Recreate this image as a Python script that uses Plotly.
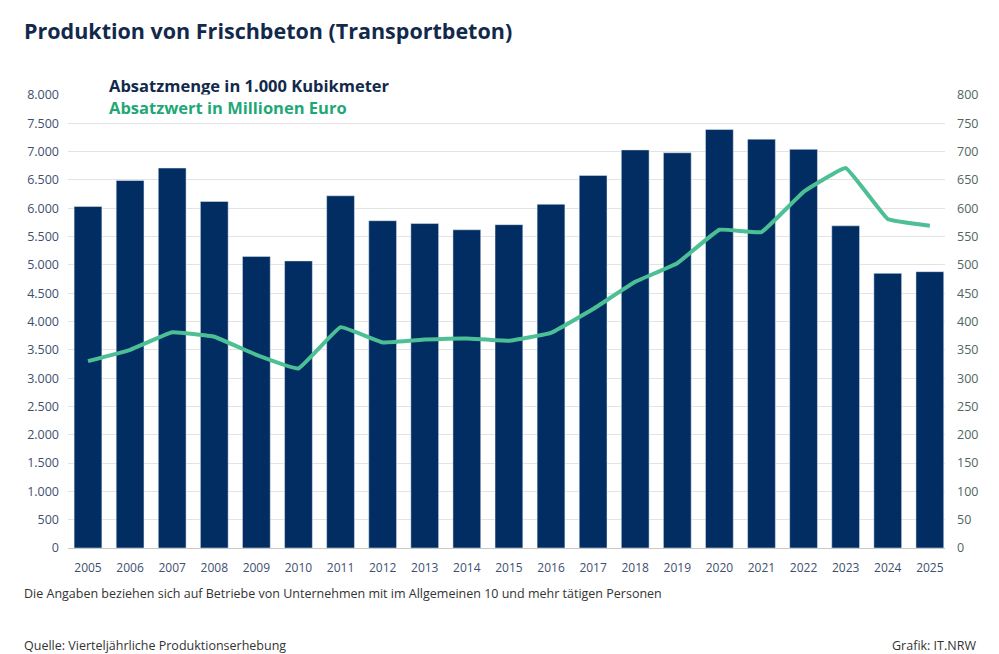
import plotly.graph_objects as go

# Daten
jahre = [str(j) for j in range(2005, 2026)]
absatzmenge = [6030, 6490, 6710, 6120, 5150, 5070, 6220, 5780, 5730, 5620, 5710,
               6070, 6580, 7030, 6980, 7390, 7220, 7040, 5690, 4850, 4880]
absatzwert = [330, 350, 381, 373, 341, 317, 390, 363, 368, 370, 366,
              380, 422, 470, 503, 562, 558, 629, 671, 581, 569]

navy = '#012d62'
gruen = '#4dbf95'

fig = go.Figure()
fig.add_trace(go.Bar(x=jahre, y=absatzmenge, marker_color=navy, width=0.66,
                     name='Absatzmenge in 1.000 Kubikmeter'))
fig.add_trace(go.Scatter(x=jahre, y=absatzwert, yaxis='y2', mode='lines',
                         line=dict(color=gruen, width=4, shape='spline', smoothing=0.25),
                         name='Absatzwert in Millionen Euro'))

fig.update_layout(
    width=999, height=654,
    margin=dict(l=68, r=54, t=95, b=106),
    paper_bgcolor='white', plot_bgcolor='white',
    separators=',.',
    showlegend=False,
    font=dict(family='Open Sans', size=12, color='#3d5070'),
    xaxis=dict(range=[-0.475, 20.36], showgrid=False, ticks='', ticklabelstandoff=9,
               linecolor='#c8c8c8', tickfont=dict(size=12, color='#3d5070')),
    yaxis=dict(range=[0, 8000], dtick=500, tickformat=',d', gridcolor='#e3e3e3',
               zeroline=False, ticks='', ticklabelstandoff=8,
               tickfont=dict(size=12.5, color='#3d5070')),
    yaxis2=dict(range=[0, 800], dtick=50, overlaying='y', side='right',
                showgrid=False, zeroline=False, ticklabelstandoff=11,
                tickfont=dict(size=12.5, color='#4f6660')),
)

fig.add_annotation(text='<b>Produktion von Frischbeton (Transportbeton)</b>',
                   xref='paper', yref='paper', x=-0.053, y=1.143, xanchor='left', yanchor='middle',
                   showarrow=False, font=dict(size=21.5, color='#13294b'))
fig.add_annotation(text='<b>Absatzmenge in 1.000 Kubikmeter</b>',
                   xref='paper', yref='paper', x=0.045, y=1.022, xanchor='left', yanchor='middle',
                   showarrow=False, bgcolor='white', font=dict(size=16.5, color='#13294b'))
fig.add_annotation(text='<b>Absatzwert in Millionen Euro</b>',
                   xref='paper', yref='paper', x=0.045, y=0.973, xanchor='left', yanchor='middle',
                   showarrow=False, bgcolor='white', font=dict(size=16.5, color='#1fa876'))
fig.add_annotation(text='Die Angaben beziehen sich auf Betriebe von Unternehmen mit im Allgemeinen 10 und mehr tätigen Personen',
                   xref='paper', yref='paper', x=-0.053, y=-0.1, xanchor='left', yanchor='middle',
                   showarrow=False, font=dict(size=12.5, color='#333333'))
fig.add_annotation(text='Quelle: Vierteljährliche Produktionserhebung',
                   xref='paper', yref='paper', x=-0.053, y=-0.215, xanchor='left', yanchor='middle',
                   showarrow=False, font=dict(size=12.5, color='#333333'))
fig.add_annotation(text='Grafik: IT.NRW',
                   xref='paper', yref='paper', x=1.038, y=-0.215, xanchor='right', yanchor='middle',
                   showarrow=False, font=dict(size=12.5, color='#333333'))

fig.write_html('out.html', config={'displayModeBar': False},
               post_script="document.body.style.margin='0';")
